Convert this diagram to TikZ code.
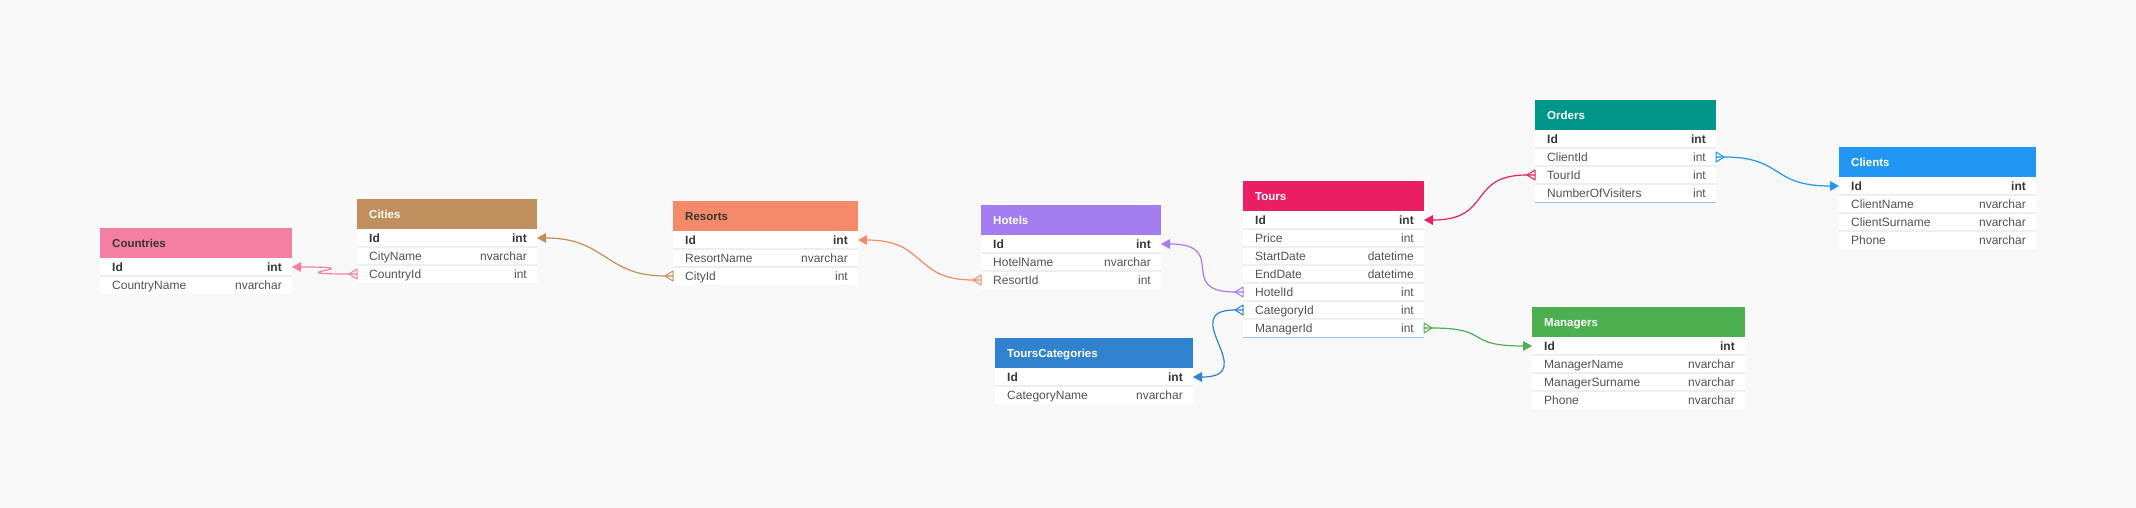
\documentclass[tikz,border=0pt]{standalone}
\usepackage{fontspec}
\setmainfont{Liberation Sans}
\definecolor{bg}{HTML}{F8F8F8}
\definecolor{cCountries}{HTML}{F47FA2}
\definecolor{cCities}{HTML}{C18F5E}
\definecolor{cResorts}{HTML}{F48A69}
\definecolor{cHotels}{HTML}{A37CF0}
\definecolor{cTours}{HTML}{E91E63}
\definecolor{cOrders}{HTML}{009688}
\definecolor{cClients}{HTML}{2196F3}
\definecolor{cCat}{HTML}{3182CE}
\definecolor{cManagers}{HTML}{4CAF50}
\definecolor{darktxt}{HTML}{363636}
\definecolor{rowtxt}{HTML}{525252}
\definecolor{sepc}{HTML}{EEEEEE}
\definecolor{selc}{HTML}{90C4EE}
\definecolor{edgec}{HTML}{ECECEC}
\tikzset{
 hdr/.style={rectangle, inner sep=0pt, outer sep=0pt, minimum height=30pt},
 rowbox/.style={rectangle, fill=white, inner sep=0pt, outer sep=0pt, minimum height=18pt},
 hdrtext/.style={inner sep=0pt, font=\fontsize{11.5}{13}\selectfont\bfseries},
 rowtext/.style={inner sep=0pt, font=\fontsize{12}{14}\selectfont, text=rowtxt},
 sepline/.style={draw=sepc, line width=1.5pt},
 link/.style={line width=1.2pt},
}
\newcommand\dbtable[8]{%
 \node[hdr, fill=#5, minimum width=#4pt, anchor=north west] (#1) at (#2,#3) {};
 \node[hdrtext, text=#6, anchor=base west] (#1-title) at ([xshift=12pt,yshift=-4.2pt]#1.west) {#7};
 \foreach \fname/\ftype [count=\i] in {#8} {%
   \pgfmathsetmacro\yy{#3+30+18*(\i-1)}%
   \node[rowbox, minimum width=#4pt, anchor=north west] (#1-r\i) at (#2,\yy) {};
   \node[rowtext, anchor=base west] (#1-r\i-n) at ([xshift=12pt,yshift=-4.3pt]#1-r\i.west) {\ifnum\i=1 \bfseries\color{darktxt}\fi\fname};
   \node[rowtext, anchor=base east] (#1-r\i-t) at ([xshift=-10pt,yshift=-4.3pt]#1-r\i.east) {\ifnum\i=1 \bfseries\color{darktxt}\fi\ftype};
   \ifnum\i>1 \draw[sepline] (#1-r\i.north west) -- (#1-r\i.north east);\fi
 }%
}
\newcommand\rel[6]{%
 \draw[#1, link] ([xshift=#3*9pt]#2) .. controls +(#3*#6,0) and +(#5*#6,0) .. ([xshift=#5*8pt]#4) -- (#4);
 \fill[#1] (#2) -- ([shift={(#3*9,5)}]#2) -- ([shift={(#3*9,-5)}]#2) -- cycle;
 \draw[#1, line width=1pt, line join=round] ([yshift=5pt]#4) -- ([xshift=#5*8pt]#4) -- ([yshift=-5pt]#4) -- cycle;
}
\begin{document}
\begin{tikzpicture}[x=1pt,y=-1pt]
\fill[bg] (0,0) rectangle (2136,508);
\useasboundingbox (0,0) rectangle (2136,508);

\dbtable{Countries}{100}{228}{192}{cCountries}{darktxt}{Countries}{Id/int, CountryName/nvarchar}
\dbtable{Cities}{357}{199}{180}{cCities}{white}{Cities}{Id/int, CityName/nvarchar, CountryId/int}
\dbtable{Resorts}{673}{201}{185}{cResorts}{darktxt}{Resorts}{Id/int, ResortName/nvarchar, CityId/int}
\dbtable{Hotels}{981}{205}{180}{cHotels}{white}{Hotels}{Id/int, HotelName/nvarchar, ResortId/int}
\dbtable{Tours}{1243}{181}{181}{cTours}{white}{Tours}{Id/int, Price/int, StartDate/datetime, EndDate/datetime, HotelId/int, CategoryId/int, ManagerId/int}
\dbtable{Orders}{1535}{100}{181}{cOrders}{white}{Orders}{Id/int, ClientId/int, TourId/int, NumberOfVisiters/int}
\dbtable{Clients}{1839}{147}{197}{cClients}{white}{Clients}{Id/int, ClientName/nvarchar, ClientSurname/nvarchar, Phone/nvarchar}
\dbtable{Cat}{995}{338}{198}{cCat}{white}{ToursCategories}{Id/int, CategoryName/nvarchar}
\dbtable{Managers}{1532}{307}{213}{cManagers}{white}{Managers}{Id/int, ManagerName/nvarchar, ManagerSurname/nvarchar, Phone/nvarchar}

\draw[selc, line width=1pt] (Tours-r7.south west) -- (Tours-r7.south east);
\draw[selc, line width=1pt] (Orders-r4.south west) -- (Orders-r4.south east);

\rel{cCountries}{Countries-r1.east}{1}{Cities-r3.west}{-1}{80}
\rel{cCities}{Cities-r1.east}{1}{Resorts-r3.west}{-1}{60}
\rel{cResorts}{Resorts-r1.east}{1}{Hotels-r3.west}{-1}{60}
\rel{cHotels}{Hotels-r1.east}{1}{Tours-r5.west}{-1}{60}
\rel{cCat}{Cat-r1.east}{1}{Tours-r6.west}{-1}{60}
\rel{cManagers}{Managers-r1.west}{-1}{Tours-r7.east}{1}{60}
\rel{cTours}{Tours-r1.east}{1}{Orders-r3.west}{-1}{60}
\rel{cClients}{Clients-r1.west}{-1}{Orders-r2.east}{1}{60}
\end{tikzpicture}
\end{document}
